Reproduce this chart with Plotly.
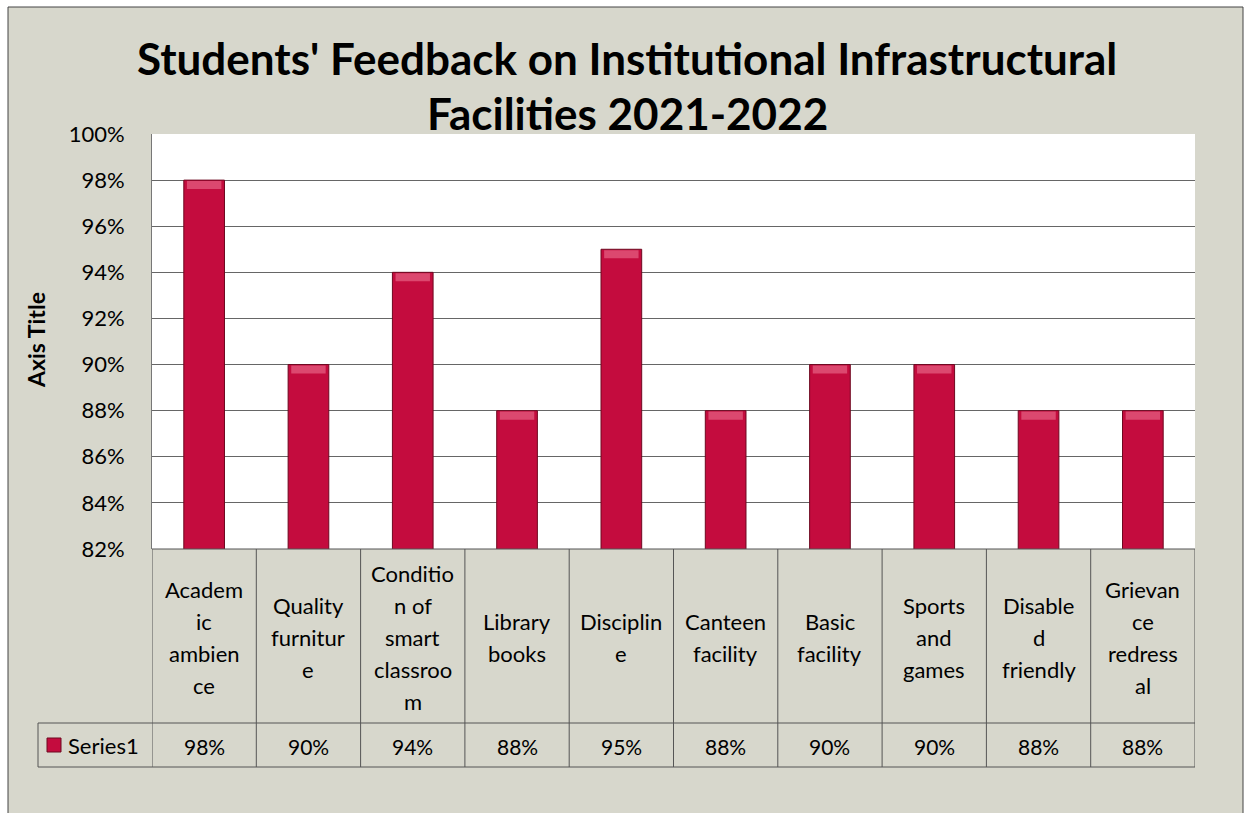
import plotly.graph_objects as go

W, H = 1248, 813

categories = ["Academic ambience", "Quality furniture", "Condition of smart classroom",
              "Library books", "Discipline", "Canteen facility", "Basic facility",
              "Sports and games", "Disabled friendly", "Grievance redressal"]
values = [0.98, 0.90, 0.94, 0.88, 0.95, 0.88, 0.90, 0.90, 0.88, 0.88]
value_labels = ["98%", "90%", "94%", "88%", "95%", "88%", "90%", "90%", "88%", "88%"]
wrapped_labels = [
    ["Academ", "ic", "ambien", "ce"],
    ["Quality", "furnitur", "e"],
    ["Conditio", "n of", "smart", "classroo", "m"],
    ["Library", "books"],
    ["Disciplin", "e"],
    ["Canteen", "facility"],
    ["Basic", "facility"],
    ["Sports", "and", "games"],
    ["Disable", "d", "friendly"],
    ["Grievan", "ce", "redress", "al"],
]
series_name = "Series1"
title_lines = ["Students' Feedback on Institutional Infrastructural", "Facilities 2021-2022"]
y_ticks = [0.82, 0.84, 0.86, 0.88, 0.90, 0.92, 0.94, 0.96, 0.98, 1.00]

BG = "#d7d7cc"
BAR = "#c40c3e"
BAR_EDGE = "#6e0820"
HIGHLIGHT = "#e2587c"
LINE = "#555555"
FONT = "Lato"
HL = 0.0035  # depth of the bevel highlight (style)

def px(x):
    return x / W

def py(y):
    return (H - y) / H

n = len(categories)
x_idx = list(range(n))

fig = go.Figure()
fig.add_trace(go.Bar(
    x=x_idx, y=values, width=0.39,
    marker=dict(color=BAR, line=dict(color=BAR_EDGE, width=1)),
    hoverinfo="skip", showlegend=False,
))
fig.add_trace(go.Bar(
    x=x_idx, y=[HL] * n, base=[v - HL - 0.0004 for v in values], width=0.33,
    marker=dict(color=HIGHLIGHT, line=dict(width=0)), opacity=0.8,
    hoverinfo="skip", showlegend=False,
))

shapes = []
# chart area background
shapes.append(dict(type="rect", xref="paper", yref="paper", x0=px(8), x1=px(1243), y0=py(830), y1=py(7),
                   fillcolor=BG, line=dict(color="#444444", width=1), layer="below"))
# plot area
shapes.append(dict(type="rect", xref="paper", yref="paper", x0=px(152), x1=px(1195), y0=py(549), y1=py(134),
                   fillcolor="white", line=dict(width=0), layer="below"))
# table horizontal lines
for yy, x0 in [(723, 38), (767, 38)]:
    shapes.append(dict(type="line", xref="paper", yref="paper", x0=px(x0), x1=px(1195), y0=py(yy), y1=py(yy),
                       line=dict(color=LINE, width=1)))
shapes.append(dict(type="line", xref="paper", yref="paper", x0=px(152), x1=px(1195), y0=py(549), y1=py(549),
                   line=dict(color=LINE, width=1)))
# vertical table lines at category boundaries
for i in range(n + 1):
    shapes.append(dict(type="line", xref="x", yref="paper", x0=i - 0.5, x1=i - 0.5, y0=py(767), y1=py(549),
                       line=dict(color=LINE, width=1)))
shapes.append(dict(type="line", xref="paper", yref="paper", x0=px(38), x1=px(38), y0=py(767), y1=py(723),
                   line=dict(color=LINE, width=1)))
# legend key
shapes.append(dict(type="rect", xref="paper", yref="paper", x0=px(47), x1=px(61), y0=py(752), y1=py(738),
                   fillcolor=BAR, line=dict(color=BAR_EDGE, width=1)))

annotations = []
# title
for k, t in enumerate(title_lines):
    annotations.append(dict(text="<b>%s</b>" % t, xref="paper", yref="paper", x=px(627), y=py(58 + 55 * k),
                            xanchor="center", yanchor="middle", showarrow=False,
                            font=dict(family=FONT, size=44, color="black")))
# axis title
annotations.append(dict(text="<b>Axis Title</b>", xref="paper", yref="paper", x=px(36), y=py(340),
                        textangle=-90, xanchor="center", yanchor="middle", showarrow=False,
                        font=dict(family=FONT, size=23, color="black")))
# category labels in table
LS = 32
for i, lines in enumerate(wrapped_labels):
    m = len(lines)
    for j, ln in enumerate(lines):
        yc = 637 + (j - (m - 1) / 2) * LS
        annotations.append(dict(text=ln, xref="x", yref="paper", x=i, y=py(yc),
                                xanchor="center", yanchor="middle", showarrow=False,
                                font=dict(family=FONT, size=22, color="black")))
# values row
for i, v in enumerate(value_labels):
    annotations.append(dict(text=v, xref="x", yref="paper", x=i, y=py(746),
                            xanchor="center", yanchor="middle", showarrow=False,
                            font=dict(family=FONT, size=21, color="black")))
annotations.append(dict(text=series_name, xref="paper", yref="paper", x=px(66), y=py(745),
                        xanchor="left", yanchor="middle", showarrow=False,
                        font=dict(family=FONT, size=22, color="black")))

fig.update_layout(
    width=W, height=H, margin=dict(l=0, r=0, t=0, b=0, pad=0), autosize=False,
    paper_bgcolor="white", plot_bgcolor="rgba(0,0,0,0)",
    shapes=shapes, annotations=annotations,
    barmode="overlay",
    xaxis=dict(domain=[px(152), px(1195)], range=[-0.5, n - 0.5], showticklabels=False, automargin=False,
               showgrid=False, zeroline=False, showline=False, ticks=""),
    yaxis=dict(domain=[py(549), py(134)], range=[0.82, 1.0], tickvals=y_ticks, tickformat=".0%",
               automargin=False,
               showgrid=True, gridcolor="#666666", gridwidth=1, zeroline=False,
               showline=True, linecolor="#777777", linewidth=1, ticks="", ticklabelstandoff=22,
               tickfont=dict(family=FONT, size=22, color="black")),
)

fig.write_html("out.html", config={"displayModeBar": False},
               post_script="document.body.style.margin='0';")
